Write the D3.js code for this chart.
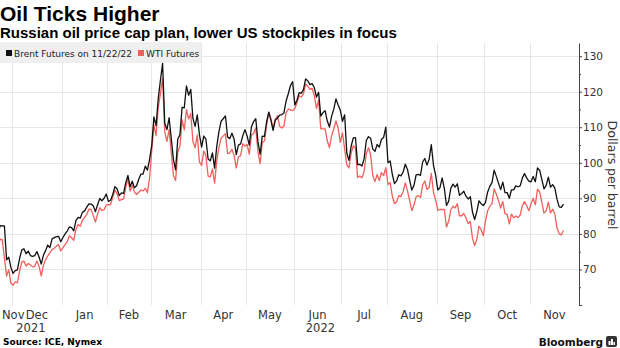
<!DOCTYPE html>
<html>
<head>
<meta charset="utf-8">
<script src="https://cdn.jsdelivr.net/npm/d3@7"></script>
<style>
  body { margin: 0; background: #fff; }
  svg { display: block; }
</style>
</head>
<body>
<svg></svg>
<script>
var w = 620, h = 348;
var plotTop = 43, plotBottom = 305, axisX = 579;

// daily settlements, one entry per weekday from 2021-11-22 to 2022-11-22 (null = market shut)
var brentClose = [
  79.70, 82.31, 82.25, 82.22, 72.72, 73.44, 70.57,
  68.87, 69.67, 69.88, 73.08, 75.44, 75.82, 74.42, 75.15, 73.90, 73.70, 73.88, 75.02, 73.52, 71.52, 73.98, 75.29, 76.85, 76.14, 78.60, 78.94, 79.23, 79.32, 77.78,
  78.98, 80.00, 80.80, 81.99, 81.75, 80.87, 83.72, 84.67, 84.47, 86.06, 86.48, 87.51, 88.44, 88.38, 87.89, 86.27, 88.20, 89.96, 89.34, 90.03, 91.21,
  89.16, 89.47, 91.11, 93.27, 92.69, 90.78, 91.55, 91.41, 94.44, 96.48, 93.28, 94.81, 92.97, 93.54, 95.39, 96.84, 96.84, 99.08, 97.93, 100.99,
  104.97, 112.93, 110.46, 118.11, 123.21, 127.98, 111.14, 109.33, 112.67, 106.90, 100.91, 98.02, 106.64, 107.93, 115.62, 115.48, 121.60, 119.03, 120.65, 112.48, 110.23, 113.45, 107.91,
  104.39, 107.53, 106.64, 101.07, 100.58, 102.78, 98.48, 104.64, 108.78, 111.70, null, 113.16, 107.25, 106.80, 108.33, 106.65, 102.32, 104.99, 105.32, 107.59, 109.34,
  107.58, 104.97, 110.14, 111.55, 112.39, 105.94, 102.46, 107.51, 107.45, 111.55, 114.24, 111.93, 109.11, 112.04, 112.55, 113.42, 113.56, 114.03, 117.40, 119.43, 121.67, 122.84,
  116.29, 117.61, 119.72, 119.51, 120.57, 123.58, 123.07, 122.01, 122.27, 121.17, 118.51, 119.81, 113.12, 114.13, 114.65, 111.74, 110.05, 113.12, 115.09, 117.98, 116.26, 114.81,
  111.63, 113.50, 102.77, 100.69, 104.65, 107.02, 107.10, 99.49, 99.57, 99.10, 101.16, 106.27, 107.35, 106.92, 103.86, 103.20, 105.15, 104.40, 106.62, 107.14, 110.01,
  100.03, 100.54, 96.78, 94.12, 94.92, 96.65, 96.31, 97.40, 99.60, 98.15, 95.10, 92.34, 93.65, 96.59, 96.72, 96.48, 100.22, 101.22, 99.34, 100.99, 105.09, 99.31, 96.49,
  92.36, 93.02, 95.74, 92.83, 88.00, 89.15, 92.84, 94.00, 93.17, 94.10, 90.84, 91.35, 92.00, 90.62, 89.83, 90.46, 86.15, 84.06, 86.27, 89.32, 88.49, 87.96,
  88.86, 91.80, 93.37, 94.42, 97.92, 96.19, 94.29, 92.45, 94.57, 91.63, 91.62, 90.03, 92.41, 92.38, 93.50, 93.26, 93.52, 95.69, 96.96, 95.77, 94.83,
  94.65, 96.16, 94.67, 98.57, 97.92, 95.36, 92.65, 93.67, 95.99, 93.14, 93.86, 92.86, 89.78, 87.62, 87.45, 88.36
];

var wtiClose = [
  76.75, 78.50, 78.39, null, 68.15, 69.95, 66.18,
  65.57, 66.50, 66.26, 69.49, 72.05, 72.36, 70.94, 71.67, 71.29, 70.73, 70.87, 72.38, 70.86, 68.23, 71.12, 72.76, 73.79, null, 75.57, 75.98, 76.56, 76.99, 75.21,
  76.08, 76.99, 77.85, 79.46, 78.90, 78.23, 81.22, 82.64, 82.12, 83.82, null, 85.43, 86.96, 86.90, 85.14, 83.31, 85.60, 87.35, 86.61, 86.82, 88.15,
  88.20, 88.26, 90.27, 92.31, 91.32, 89.36, 89.66, 89.88, 93.10, 95.46, 92.07, 93.66, 91.76, 91.07, null, 92.35, 92.10, 92.81, 91.59, 95.72,
  103.41, 110.60, 107.67, 115.68, 119.40, 123.70, 108.70, 106.02, 109.33, 103.01, 96.44, 95.04, 102.98, 104.70, 112.12, 109.27, 114.93, 112.34, 113.90, 105.96, 104.24, 107.82, 100.28,
  99.27, 103.28, 101.96, 96.23, 96.03, 98.26, 94.29, 100.60, 104.25, 106.95, null, 108.21, 102.56, 102.75, 103.79, 102.07, 98.54, 101.70, 102.02, 105.36, 104.69,
  105.17, 102.41, 107.81, 108.26, 109.77, 103.09, 99.76, 105.71, 106.13, 110.49, 114.20, 112.40, 109.59, 112.21, 113.23, 110.29, 109.77, 110.33, 114.09, 115.07, null, 114.67,
  115.26, 116.87, 118.87, 118.50, 119.41, 122.11, 121.51, 120.67, 120.93, 118.93, 115.31, 117.59, 109.56, null, 109.52, 106.19, 104.27, 107.62, 109.57, 111.76, 109.78, 105.76,
  108.43, null, 99.50, 98.53, 102.73, 104.79, 104.09, 95.84, 96.30, 95.78, 97.59, 102.60, 104.22, 102.26, 96.35, 94.70, 96.70, 94.98, 97.26, 96.42, 98.62,
  93.89, 94.42, 90.66, 88.54, 89.01, 90.76, 90.50, 91.93, 94.34, 92.09, 89.41, 86.53, 88.11, 90.50, 90.77, 90.23, 93.74, 94.89, 92.52, 93.06, 97.01, 91.64, 89.55,
  86.61, 86.87, null, 86.88, 81.94, 83.54, 86.79, 87.78, 87.31, 88.48, 85.10, 85.11, 85.73, 84.45, 82.94, 83.49, 78.74, 76.71, 78.50, 82.15, 81.23, 79.49,
  83.63, 86.52, 87.76, 88.45, 92.64, 91.13, 89.35, 87.27, 89.11, 85.61, 85.46, 82.82, 85.55, 84.51, 85.05, 84.58, 85.32, 87.91, 89.08, 87.90, 86.53,
  88.37, 90.00, 88.17, 92.61, 91.79, 88.91, 85.83, 86.47, 88.96, 85.87, 86.92, 85.59, 81.64, 80.08, 79.73, 80.95
];

var seriesNames = ["Brent Futures on 11/22/22", "WTI Futures"];
var seriesColors = ["#111111", "#f0605c"];
var yTicks = [60, 70, 80, 90, 100, 110, 120, 130];
var yMinorTicks = [65, 75, 85, 95, 105, 115, 125];
var monthNames = ["Nov", "Dec", "Jan", "Feb", "Mar", "Apr", "May", "Jun", "Jul", "Aug", "Sep", "Oct", "Nov"];
var yearNames = ["2021", "2022"];

var firstDay = new Date(2021, 10, 22), lastDay = new Date(2022, 10, 22);
// weekday axis: weekends are skipped, holidays keep their slot
var days = d3.timeDay.range(firstDay, d3.timeDay.offset(lastDay, 1))
    .filter(d => d.getDay() % 6 !== 0);

var svg = d3.select("svg")
    .attr("width", w)
    .attr("height", h)
    .style("font-family", "'DejaVu Sans', sans-serif");

var x = d3.scaleLinear().domain([0, days.length - 1]).range([-2.1, 563.5]);
var y = d3.scaleLinear().domain([60, 133.7]).range([plotBottom, plotTop]);

svg.append("defs").append("clipPath").attr("id", "plot-clip")
    .append("rect")
    .attr("x", 0).attr("y", 0)
    .attr("width", axisX).attr("height", plotBottom + 2);

// month boundaries sit half a slot before the month's first weekday
var monthStarts = d3.timeMonth.range(new Date(2021, 11, 1), new Date(2022, 11, 1));
var gridX = monthStarts.map(m => x(days.findIndex(d => d >= m) - 0.5));

var grid = svg.append("g").attr("class", "grid")
    .attr("stroke", "#e6e6e6").attr("stroke-width", 1);
grid.selectAll(".hgrid")
    .data(yTicks.filter(v => v > 60))
    .enter().append("line")
    .attr("x1", 0).attr("x2", axisX)
    .attr("y1", d => Math.round(y(d)) + 0.5).attr("y2", d => Math.round(y(d)) + 0.5);
grid.selectAll(".vgrid")
    .data(gridX)
    .enter().append("line")
    .attr("x1", d => Math.round(d) + 0.5).attr("x2", d => Math.round(d) + 0.5)
    .attr("y1", plotTop).attr("y2", plotBottom);

// legend strip
var legend = svg.append("g").attr("class", "legend");
legend.append("rect")
    .attr("x", 0).attr("y", 42).attr("width", 201).attr("height", 21)
    .attr("fill", "#efefef");
var legendX = [6, 138];
seriesNames.forEach((name, i) => {
    legend.append("rect")
        .attr("x", legendX[i]).attr("y", 50)
        .attr("width", 6).attr("height", 6)
        .attr("fill", seriesColors[i]);
    legend.append("text")
        .attr("x", legendX[i] + 8).attr("y", 56.5)
        .attr("font-size", 9)
        .attr("fill", "#222")
        .text(name);
});

// price lines
var line = d3.line()
    .x(d => x(d.i))
    .y(d => y(d.v));

var series = [wtiClose, brentClose];
var colors = [seriesColors[1], seriesColors[0]];
var lines = svg.append("g").attr("clip-path", "url(#plot-clip)");
series.forEach((vals, k) => {
    var pts = vals.map((v, i) => ({ i: i, v: v })).filter(p => p.v != null);
    lines.append("path")
        .datum(pts)
        .attr("d", line)
        .attr("fill", "none")
        .attr("stroke", colors[k])
        .attr("stroke-width", 1.3)
        .attr("stroke-linejoin", "round");
});

// right value axis
var yAxis = svg.append("g")
    .attr("transform", "translate(" + axisX + ",0)")
    .call(d3.axisRight(y).tickValues(yTicks).tickSize(3).tickSizeOuter(0).tickPadding(1)
        .tickFormat(d => d === 60 ? "" : d));
yAxis.select(".domain").attr("stroke", "#444");
yAxis.selectAll(".tick line").attr("stroke", "#444");
yAxis.selectAll(".tick text")
    .attr("font-family", "'DejaVu Sans', sans-serif")
    .attr("font-size", 10.5)
    .attr("fill", "#333");
svg.append("g")
    .attr("transform", "translate(" + axisX + ",0)")
    .call(d3.axisRight(y).tickValues(yMinorTicks).tickSize(2).tickSizeOuter(0).tickFormat(""))
    .call(g => g.select(".domain").remove())
    .selectAll(".tick line").attr("stroke", "#444");

svg.append("text")
    .attr("transform", "translate(608,175) rotate(90)")
    .attr("text-anchor", "middle")
    .attr("font-size", 12.5)
    .attr("fill", "#333")
    .text("Dollars per barrel");

// month labels centred in each month band, kept inside the plot
var edges = [0].concat(gridX, [axisX]);
var monthText = svg.append("g").attr("font-size", 11.5).attr("fill", "#333");
monthNames.forEach((m, i) => {
    var cx = (edges[i] + edges[i + 1]) / 2;
    var t = monthText.append("text")
        .attr("x", cx).attr("y", 319)
        .attr("text-anchor", "middle")
        .text(m);
    var tw = t.node().getComputedTextLength();
    if (cx - tw / 2 < 2) t.attr("x", 2 + tw / 2);
});

var janX = gridX[1];
var yearBands = [[0, janX], [janX, axisX]];
yearNames.forEach((yr, i) => {
    monthText.append("text")
        .attr("x", (yearBands[i][0] + yearBands[i][1]) / 2)
        .attr("y", 332)
        .attr("text-anchor", "middle")
        .text(yr);
});

// titles
svg.append("text")
    .attr("x", 0).attr("y", 21)
    .attr("font-family", "'Liberation Sans', Arial, sans-serif")
    .attr("font-weight", "bold")
    .attr("font-size", 21)
    .attr("fill", "#000")
    .text("Oil Ticks Higher");
svg.append("text")
    .attr("x", 0).attr("y", 38)
    .attr("font-family", "'Liberation Sans', Arial, sans-serif")
    .attr("font-weight", "bold")
    .attr("font-size", 15)
    .attr("fill", "#000")
    .text("Russian oil price cap plan, lower US stockpiles in focus");

// footer
svg.append("text")
    .attr("x", 3).attr("y", 345)
    .attr("font-weight", "bold")
    .attr("font-size", 9)
    .attr("fill", "#000")
    .text("Source: ICE, Nymex");
svg.append("text")
    .attr("x", 603).attr("y", 346)
    .attr("text-anchor", "end")
    .attr("font-weight", "bold")
    .attr("font-size", 10.5)
    .attr("fill", "#111")
    .text("Bloomberg");
var logo = svg.append("g").attr("transform", "translate(606,336)");
logo.append("rect")
    .attr("width", 11).attr("height", 11).attr("rx", 2)
    .attr("fill", "#333");
[[2.5, 5, 2], [5, 3, 2], [7.5, 6, 1.5]].forEach(b => {
    logo.append("rect")
        .attr("x", b[0]).attr("y", b[1])
        .attr("width", b[2]).attr("height", 9 - b[1])
        .attr("fill", "#fff");
});
</script>
</body>
</html>
